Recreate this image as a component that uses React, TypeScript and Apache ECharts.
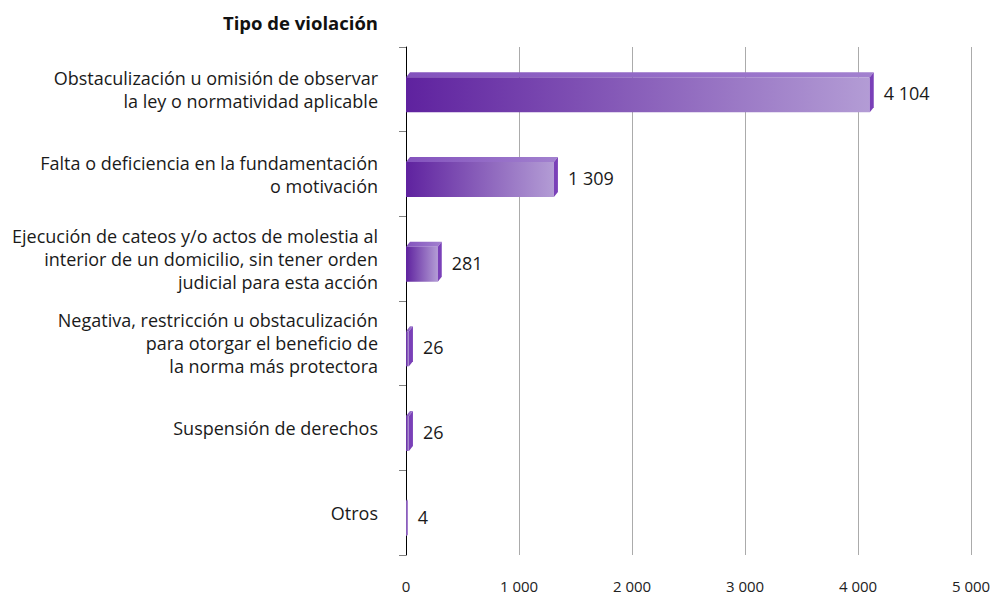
import React, { useEffect, useRef } from "react";
import * as echarts from "echarts";

const categories = [
  "Obstaculización u omisión de observar\nla ley o normatividad aplicable",
  "Falta o deficiencia en la fundamentación\no motivación",
  "Ejecución de cateos y/o actos de molestia al\ninterior de un domicilio, sin tener orden\njudicial para esta acción",
  "Negativa, restricción u obstaculización\npara otorgar el beneficio de\nla norma más protectora",
  "Suspensión de derechos",
  "Otros",
];
const values = [4104, 1309, 281, 26, 26, 4];
const axisTicks = [0, 1000, 2000, 3000, 4000, 5000];
const axisTitle = "Tipo de violación";

const FONT = "'Open Sans', 'Noto Sans', sans-serif";
const fmt = (v: number) => String(v).replace(/\B(?=(\d{3})+(?!\d))/g, " ");

export default function App() {
  const ref = useRef<HTMLDivElement>(null);
  useEffect(() => {
    if (!ref.current) return;
    const chart = echarts.init(ref.current, undefined, { renderer: "svg" });
    chart.setOption({
      animation: false,
      backgroundColor: "#ffffff",
      textStyle: { fontFamily: FONT },
      grid: { left: 406, right: 26, top: 47, bottom: 44, containLabel: false },
      graphic: [
        {
          type: "text",
          x: 378,
          y: 22,
          style: {
            text: axisTitle,
            fill: "#111",
            font: `bold 18.5px ${FONT}`,
            textAlign: "right",
            textVerticalAlign: "middle",
          },
        },
      ],
      xAxis: {
        type: "value",
        min: axisTicks[0],
        max: axisTicks[axisTicks.length - 1],
        interval: 1000,
        axisLine: { show: false },
        axisTick: { show: false },
        splitLine: { show: true, lineStyle: { color: "#ababab", width: 1 } },
        axisLabel: {
          color: "#222",
          fontSize: 15,
          fontFamily: FONT,
          margin: 23,
          formatter: (v: number) => fmt(v),
        },
      },
      yAxis: {
        type: "category",
        inverse: true,
        data: categories,
        axisLine: { show: true, lineStyle: { color: "#000", width: 1 } },
        axisTick: { show: true, length: 7, lineStyle: { color: "#808080" } },
        axisLabel: {
          color: "#1a1a1a",
          fontSize: 18,
          fontFamily: FONT,
          lineHeight: 23,
          margin: 28,
          align: "right",
        },
      },
      series: [
        {
          type: "custom",
          data: values.map((v, i) => [v, i]),
          encode: { x: 0, y: 1 },
          z: 3,
          renderItem: (params: any, api: any) => {
            const v = api.value(0);
            const idx = api.value(1);
            const end = api.coord([v, idx]);
            const start = api.coord([0, idx]);
            const x0 = start[0];
            const x1 = Math.max(end[0], x0 + 1);
            const w = end[0] - x0;
            const k = Math.min(1, (w * 1.5) / 4);
            const dx = 4 * k;
            const dy = 5 * k;
            const cy = end[1];
            const yT = cy - 12;
            const yB = cy + 23;
            return {
              type: "group",
              children: [
                {
                  type: "polygon",
                  shape: {
                    points: [
                      [x0, yT],
                      [x0 + dx, yT - dy],
                      [x1 + dx, yT - dy],
                      [x1, yT],
                    ],
                  },
                  style: {
                    fill: new echarts.graphic.LinearGradient(0, 0, 1, 0, [
                      { offset: 0, color: "#8352bd" },
                      { offset: 1, color: "#a281cf" },
                    ]),
                  },
                },
                {
                  type: "rect",
                  shape: { x: x0, y: yT, width: x1 - x0, height: yB - yT },
                  style: {
                    fill: new echarts.graphic.LinearGradient(0, 0, 1, 0, [
                      { offset: 0, color: "#5f229f" },
                      { offset: 1, color: "#b39cd5" },
                    ]),
                  },
                },
                {
                  type: "polygon",
                  shape: {
                    points: [
                      [x1, yT],
                      [x1 + dx, yT - dy],
                      [x1 + dx, yB - dy],
                      [x1, yB],
                    ],
                  },
                  style: { fill: "#7a40b8" },
                },
                {
                  type: "text",
                  x: x1 + dx + 10,
                  y: cy + 4,
                  style: {
                    text: fmt(v),
                    fill: "#1a1a1a",
                    font: `18px ${FONT}`,
                    textAlign: "left",
                    textVerticalAlign: "middle",
                  },
                },
              ],
            };
          },
        },
      ],
    });
    return () => chart.dispose();
  }, []);
  return (
    <div
      ref={ref}
      style={{ position: "absolute", left: 0, top: 0, width: 997, height: 599 }}
    />
  );
}
